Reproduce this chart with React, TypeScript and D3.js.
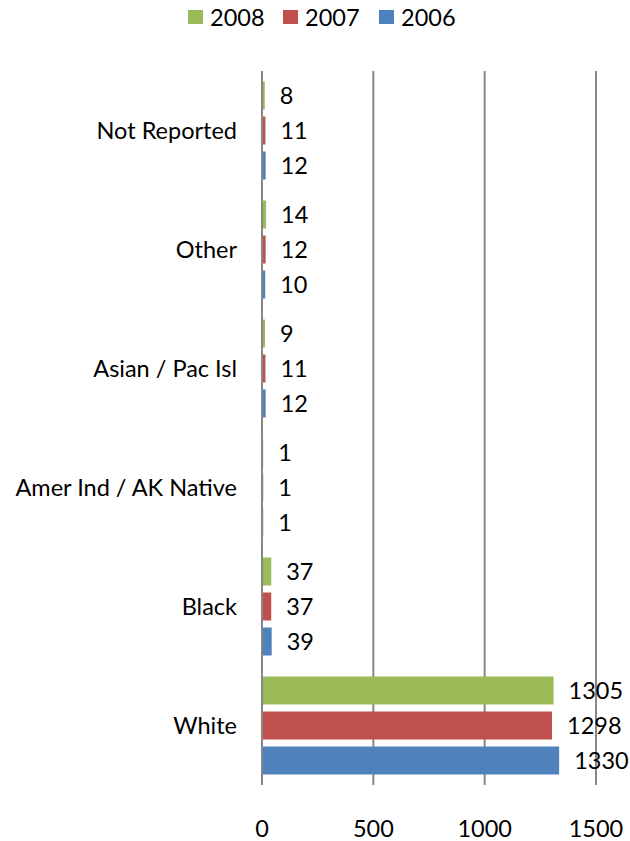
import React from "react";
import * as d3 from "d3";

const categories = ["Not Reported", "Other", "Asian / Pac Isl", "Amer Ind / AK Native", "Black", "White"];
const years = ["2008", "2007", "2006"];
const values2008 = [8, 14, 9, 1, 37, 1305];
const values2007 = [11, 12, 11, 1, 37, 1298];
const values2006 = [12, 10, 12, 1, 39, 1330];
const xTicks = [0, 500, 1000, 1500];
const colors = ["#9BBB59", "#C0504D", "#4F81BD"];

const App: React.FC = () => {
  const width = 630;
  const height = 841;
  const left = 262;
  const right = 596;
  const top = 71;
  const bottom = 785;
  const font = "Lato, sans-serif";
  const fs = 23.5;

  const x = d3.scaleLinear().domain([0, 1500]).range([left, right]);
  const y = d3.scaleBand<string>().domain(categories).range([top, bottom]);
  const inner = d3
    .scaleBand<string>()
    .domain(years)
    .range([0, y.bandwidth()])
    .paddingInner(0.2)
    .paddingOuter(0.3);

  const series = [values2008, values2007, values2006];

  return (
    <svg width={width} height={height} style={{ position: "absolute", left: 0, top: 0 }}>
      <rect width={width} height={height} fill="#fff" />
      {/* legend */}
      {years.map((yr, i) => {
        const lx = [188, 283, 379][i];
        return (
          <g key={yr}>
            <rect x={lx} y={10} width={15} height={14} fill={colors[i]} />
            <text x={lx + 22} y={26} fontFamily={font} fontSize={fs} fill="#000">
              {yr}
            </text>
          </g>
        );
      })}
      {/* gridlines */}
      {xTicks.map((t) => (
        <line
          key={t}
          x1={x(t)}
          x2={x(t)}
          y1={top}
          y2={bottom}
          stroke="#878787"
          strokeWidth={2}
        />
      ))}
      {/* bars */}
      {series.map((vals, si) =>
        categories.map((c, ci) => {
          const by = (y(c) as number) + (inner(years[si]) as number);
          return (
            <g key={c + si}>
              <rect
                x={x(0) + 1}
                y={by}
                width={Math.max(0, x(vals[ci]) - x(0))}
                height={inner.bandwidth()}
                fill={colors[si]}
              />
              <text
                x={x(vals[ci]) + 16}
                y={by + inner.bandwidth() / 2}
                dy="0.35em"
                fontFamily={font}
                fontSize={fs}
                fill="#000"
              >
                {vals[ci]}
              </text>
            </g>
          );
        })
      )}
      {/* category labels */}
      {categories.map((c) => (
        <text
          key={c}
          x={237}
          y={(y(c) as number) + y.bandwidth() / 2}
          dy="0.35em"
          textAnchor="end"
          fontFamily={font}
          fontSize={fs}
          fill="#000"
        >
          {c}
        </text>
      ))}
      {/* x tick labels */}
      {xTicks.map((t) => (
        <text
          key={t}
          x={x(t)}
          y={829}
          dy="0.35em"
          textAnchor="middle"
          fontFamily={font}
          fontSize={fs}
          fill="#000"
        >
          {t}
        </text>
      ))}
    </svg>
  );
};

export default App;
